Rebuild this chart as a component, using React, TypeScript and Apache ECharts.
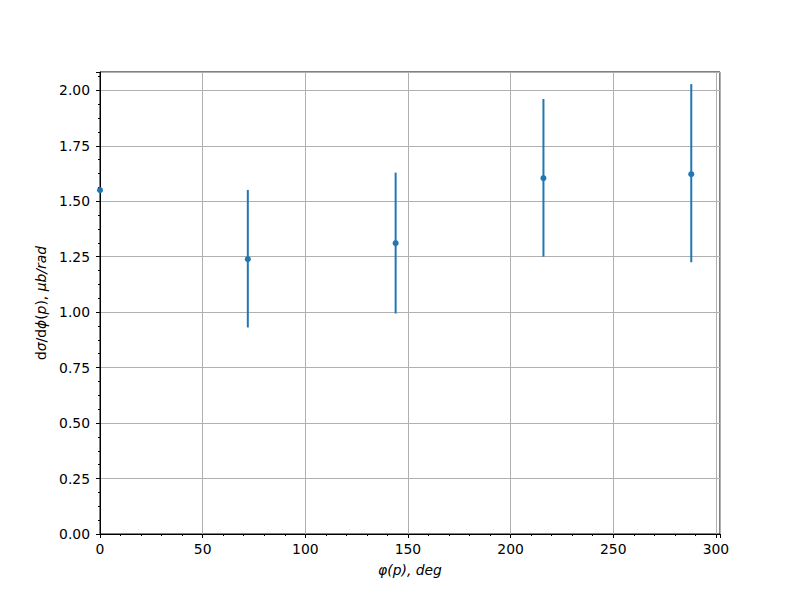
import React, { useEffect, useRef } from "react";
import * as echarts from "echarts";

const phi = [0, 72, 144, 216, 288];
const values = [1.55, 1.239, 1.311, 1.604, 1.622];
const errLow: (number | null)[] = [null, 0.931, 0.994, 1.25, 1.225];
const errHigh: (number | null)[] = [null, 1.551, 1.629, 1.961, 2.028];
const xTicks = [0, 50, 100, 150, 200, 250, 300];
const yTicks = [0, 0.25, 0.5, 0.75, 1.0, 1.25, 1.5, 1.75, 2.0];

const BLUE = "#1f77b4";
const FONT = "DejaVu Sans";

export default function App() {
  const ref = useRef<HTMLDivElement>(null);
  useEffect(() => {
    document.body.style.margin = "0";
    const chart = echarts.init(ref.current!, null, { renderer: "svg" });
    const errData = phi
      .map((x, i) => [x, errLow[i], errHigh[i]])
      .filter((d) => d[1] !== null);
    chart.setOption({
      animation: false,
      backgroundColor: "#ffffff",
      grid: {
        left: 100,
        right: 80,
        top: 72,
        bottom: 66,
        show: true,
        borderColor: "#000",
        borderWidth: 1,
        backgroundColor: "transparent",
      },
      xAxis: {
        type: "value",
        min: 0,
        max: 302,
        interval: 50,
        name: "φ(p), deg",
        nameLocation: "middle",
        nameGap: 29,
        nameTextStyle: { fontFamily: FONT, fontSize: 13.9, fontStyle: "italic", color: "#000" },
        axisLine: { show: true, lineStyle: { color: "#000", width: 1 } },
        axisTick: { show: true, inside: false, length: 4, lineStyle: { color: "#000" } },
        minorTick: { show: true, splitNumber: 5, length: 2, lineStyle: { color: "#000" } },
        axisLabel: {
          fontFamily: FONT,
          fontSize: 13.9,
          color: "#000",
          margin: 8,
          showMaxLabel: false,
          formatter: (v: number) => (xTicks.includes(v) ? String(v) : ""),
        },
        splitLine: { show: true, lineStyle: { color: "#b0b0b0", width: 1 } },
      },
      yAxis: {
        type: "value",
        min: 0,
        max: 2.0825,
        interval: 0.25,
        name: "{r|d}{i|σ}{r|/d}{i|ϕ}{r|(}{i|p}{r|), }{i|μb/rad}",
        nameLocation: "middle",
        nameGap: 50,
        nameTextStyle: {
          fontFamily: FONT,
          fontSize: 13.9,
          color: "#000",
          rich: {
            r: { fontFamily: FONT, fontSize: 13.9, color: "#000" },
            i: { fontFamily: FONT, fontSize: 13.9, color: "#000", fontStyle: "italic" },
          },
        },
        axisLine: { show: true, lineStyle: { color: "#000", width: 1 } },
        axisTick: { show: true, inside: false, length: 4, lineStyle: { color: "#000" } },
        minorTick: { show: true, splitNumber: 4, length: 2, lineStyle: { color: "#000" } },
        axisLabel: {
          fontFamily: FONT,
          fontSize: 13.9,
          color: "#000",
          margin: 10,
          showMaxLabel: false,
          formatter: (v: number) =>
            yTicks.some((t) => Math.abs(t - v) < 1e-9) ? v.toFixed(2) : "",
        },
        splitLine: { show: true, lineStyle: { color: "#b0b0b0", width: 1 } },
      },
      series: [
        {
          type: "custom",
          data: errData,
          clip: true,
          renderItem: (params: any, api: any) => {
            const x = api.value(0);
            const p1 = api.coord([x, api.value(1)]);
            const p2 = api.coord([x, api.value(2)]);
            return {
              type: "line",
              shape: { x1: p1[0], y1: p1[1], x2: p2[0], y2: p2[1] },
              style: { stroke: BLUE, lineWidth: 2 },
            };
          },
          z: 2,
        },
        {
          type: "scatter",
          data: phi.map((x, i) => [x, values[i]]),
          symbol: "circle",
          symbolSize: 6,
          itemStyle: { color: BLUE, opacity: 1 },
          z: 3,
        },
      ],
    });
    return () => chart.dispose();
  }, []);
  return <div ref={ref} style={{ width: 800, height: 600 }} />;
}
